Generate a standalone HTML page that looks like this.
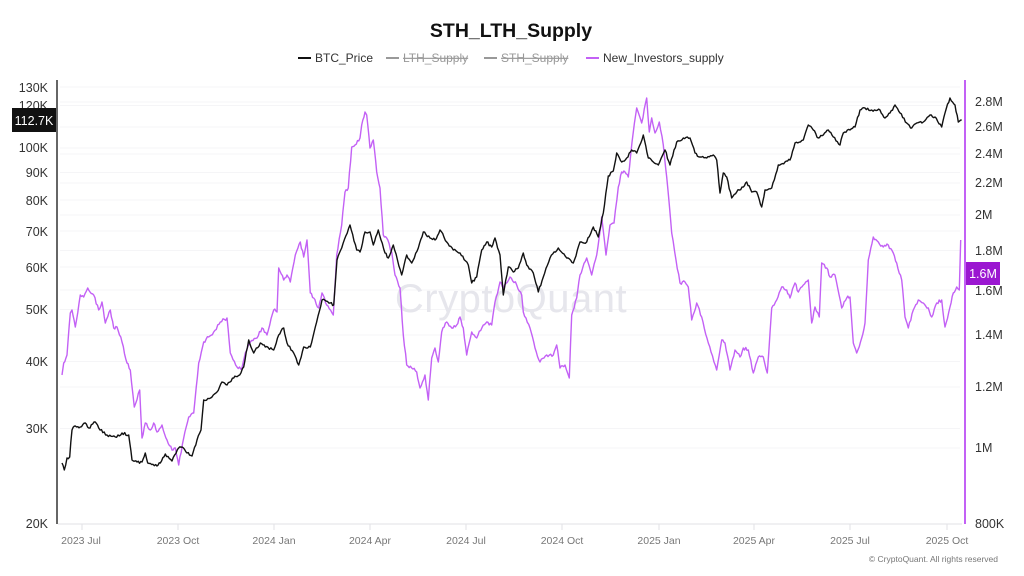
<!DOCTYPE html>
<html><head><meta charset="utf-8"><style>
html,body{margin:0;padding:0;background:#fff;}
svg{display:block;font-family:"Liberation Sans",sans-serif;}
</style></head><body>
<svg width="1024" height="576" viewBox="0 0 1024 576" xmlns="http://www.w3.org/2000/svg">
<rect width="1024" height="576" fill="#fff"/>
<!-- title -->
<text x="511" y="37" text-anchor="middle" font-size="19.5" font-weight="bold" fill="#111">STH_LTH_Supply</text>
<!-- legend -->
<g font-size="12">
<line x1="298" y1="58" x2="311" y2="58" stroke="#111" stroke-width="2"/>
<text x="315" y="62" fill="#333">BTC_Price</text>
<line x1="386" y1="58" x2="399" y2="58" stroke="#999" stroke-width="2"/>
<text x="403" y="62" fill="#999" text-decoration="line-through">LTH_Supply</text>
<line x1="484" y1="58" x2="497" y2="58" stroke="#999" stroke-width="2"/>
<text x="501" y="62" fill="#999" text-decoration="line-through">STH_Supply</text>
<line x1="586" y1="58" x2="599" y2="58" stroke="#c361f5" stroke-width="2"/>
<text x="603" y="62" fill="#333">New_Investors_supply</text>
</g>
<!-- gridlines -->
<g stroke="#f5f5f7" stroke-width="1">
<line x1="60" x2="960" y1="87" y2="87"/><line x1="60" x2="960" y1="105.5" y2="105.5"/>
<line x1="60" x2="960" y1="148" y2="148"/><line x1="60" x2="960" y1="172.5" y2="172.5"/>
<line x1="60" x2="960" y1="200" y2="200"/><line x1="60" x2="960" y1="231" y2="231"/>
<line x1="60" x2="960" y1="267" y2="267"/><line x1="60" x2="960" y1="309.5" y2="309.5"/>
<line x1="60" x2="960" y1="361.5" y2="361.5"/><line x1="60" x2="960" y1="428.5" y2="428.5"/>
<line x1="60" x2="960" y1="102" y2="102"/><line x1="60" x2="960" y1="127" y2="127"/>
<line x1="60" x2="960" y1="154" y2="154"/><line x1="60" x2="960" y1="183" y2="183"/>
<line x1="60" x2="960" y1="215" y2="215"/><line x1="60" x2="960" y1="250.5" y2="250.5"/>
<line x1="60" x2="960" y1="290" y2="290"/><line x1="60" x2="960" y1="335" y2="335"/>
<line x1="60" x2="960" y1="387" y2="387"/><line x1="60" x2="960" y1="448" y2="448"/>
</g>
<!-- watermark -->
<text x="511" y="312" text-anchor="middle" font-size="40" fill="#e6e6ec" letter-spacing="0.5">CryptoQuant</text>
<!-- x axis -->
<line x1="58" y1="524" x2="962" y2="524" stroke="#e2e2e6" stroke-width="1"/>
<g stroke="#e2e2e6" stroke-width="1">
<line x1="82" x2="82" y1="524" y2="530"/><line x1="178" x2="178" y1="524" y2="530"/>
<line x1="274" x2="274" y1="524" y2="530"/><line x1="370" x2="370" y1="524" y2="530"/>
<line x1="466" x2="466" y1="524" y2="530"/><line x1="562" x2="562" y1="524" y2="530"/>
<line x1="659" x2="659" y1="524" y2="530"/><line x1="754" x2="754" y1="524" y2="530"/>
<line x1="850" x2="850" y1="524" y2="530"/><line x1="947" x2="947" y1="524" y2="530"/>
</g>
<g font-size="10.5" fill="#777" text-anchor="middle">
<text x="81" y="544">2023 Jul</text><text x="178" y="544">2023 Oct</text>
<text x="274" y="544">2024 Jan</text><text x="370" y="544">2024 Apr</text>
<text x="466" y="544">2024 Jul</text><text x="562" y="544">2024 Oct</text>
<text x="659" y="544">2025 Jan</text><text x="754" y="544">2025 Apr</text>
<text x="850" y="544">2025 Jul</text><text x="947" y="544">2025 Oct</text>
</g>
<text x="998" y="562" text-anchor="end" font-size="8.5" fill="#777">© CryptoQuant. All rights reserved</text>
<!-- left axis -->
<line x1="57" y1="80" x2="57" y2="524" stroke="#666" stroke-width="2"/>
<g font-size="12.5" fill="#333" text-anchor="end">
<text x="48" y="92">130K</text><text x="48" y="110">120K</text>
<text x="48" y="152">100K</text><text x="48" y="177">90K</text>
<text x="48" y="205">80K</text><text x="48" y="236">70K</text>
<text x="48" y="272">60K</text><text x="48" y="314">50K</text>
<text x="48" y="366">40K</text><text x="48" y="433">30K</text>
<text x="48" y="528">20K</text>
</g>
<rect x="12" y="108" width="44" height="24" fill="#111"/>
<text x="34" y="125" text-anchor="middle" font-size="12.5" fill="#fff">112.7K</text>
<!-- right axis -->
<line x1="965" y1="80" x2="965" y2="524" stroke="#c361f5" stroke-width="2"/>
<g font-size="12.5" fill="#333">
<text x="975" y="106">2.8M</text><text x="975" y="131">2.6M</text>
<text x="975" y="158">2.4M</text><text x="975" y="187">2.2M</text>
<text x="975" y="219">2M</text><text x="975" y="255">1.8M</text>
<text x="975" y="295">1.6M</text><text x="975" y="339">1.4M</text>
<text x="975" y="391">1.2M</text><text x="975" y="452">1M</text>
<text x="975" y="528">800K</text>
</g>
<rect x="966" y="262" width="34" height="23" fill="#9b17d1"/>
<text x="983" y="278" text-anchor="middle" font-size="12.5" fill="#fff">1.6M</text>
<!-- series -->
<polyline id="nis" fill="none" stroke="#c361f5" stroke-width="1.4" stroke-linejoin="round" points="62,375 63.7,363 67,355 70.3,313 72,310 75.3,327 80.3,295 83.7,297 87.7,288 93.7,295 98.7,310 102,302 105.3,323 110.3,310 113.7,328 117,327 122,342 127,363 130.3,370 134.3,407 139.7,390 142,438 145.3,423 150.3,430 153.7,423 157,432 162,425 167,440 172,450 175.3,448 178.7,465 183.7,438 188.7,417 193.7,413 198.7,363 203.7,342 208.7,337 213.7,332 220.3,322 227,318 230.3,353 237,367 242,368 245.3,353 250.3,342 257,338 262,328 267,335 273.7,310 277,312 278.7,268 283.7,280 287,275 290.3,282 295.3,255 300.3,242 303.7,257 307,240 310.3,293 313.7,298 318.7,308 322,293 326.7,305 333.3,315 336.7,255 341.7,225 345,192 348.3,188 351.7,147 355,145 360,138 361.7,125 365,112 366.7,115 370,148 373.3,140 376.7,172 380,188 383.3,235 386.7,238 391.7,252 395,275 400,288 403.3,335 406.7,365 411.7,368 416.7,372 420,388 425,375 428.3,400 431.7,358 435,348 438.3,362 441.7,332 446.7,322 451.7,328 456.7,325 460,317 463.3,328 466.7,355 471.7,332 476.7,338 483.3,325 486.7,322 491.7,325 495,302 500,282 503.3,288 510,277 516.7,285 521.7,295 523.3,312 530,328 535,348 540,362 546.7,355 553.3,355 556.7,345 560,368 565,365 569.3,378 571.7,315 576.7,298 580,275 586.7,258 591.7,275 596.7,255 601.7,217 606,255 610,225 614,223 618.3,187 621.7,172 625,172 628.3,177 633.3,132 636.7,108 641.7,123 646.7,98 649.3,132 651.7,118 655,133 659.3,122 663.3,145 666.7,177 671.7,233 676,260 680,283 685,282 688.3,287 691.7,320 696.7,303 701.7,317 708.3,343 716.7,370 721.7,340 725,343 730,370 735,350 740,357 743.3,348 748.3,350 753.3,373 758.3,357 763.3,357 767.3,373 771.7,308 776.7,300 781.7,287 786.7,290 790,298 795,283 798.3,292 803.3,285 808.3,280 811.7,323 815,307 819.3,317 821.7,263 826.7,268 830,277 835,275 841.7,308 846.7,298 850,297 853.3,343 856.7,353 861.7,338 865,323 868.3,260 873.3,237 878.3,242 883.3,247 888.3,245 893.3,253 896.7,263 901.7,280 905,317 908.3,328 913.3,310 918.3,300 923.3,303 928.3,308 931.7,317 936.7,303 941.7,300 945,327 950,307 953.3,293 956.7,287 959.3,290 960.7,240"/>
<polyline id="btc" fill="none" stroke="#111" stroke-width="1.4" stroke-linejoin="round" points="62,463 64.3,470 67,458 69.7,457 72,430 75.3,426 80.3,427 85.3,423 88.7,428 95.3,422 98.7,428 107,435 115.3,437 122,433 128.7,435 132,460 137,462 142,462 145.3,453 147.7,463 157,466 160.3,463 165.3,454 172,461 178.7,448 182,447 187,453 192,456 197,440 201,430 203.7,400 212,397 217,392 222,382 227,385 233.7,378 239.7,375 243.7,367 248.7,340 253.7,353 260.3,343 265.3,347 273.7,350 278.7,335 283.7,328 287,343 293.7,353 298.7,365 303.7,347 310.3,347 315.3,327 322,300 330.3,303 333.7,305 337,260 341.7,248 350,225 356.7,250 360,252 365,232 370,232 373.3,245 378.3,230 385,253 388.3,258 393.3,245 401.7,275 406.7,255 411.7,263 418.3,248 423.3,232 430,238 435,240 440,230 446.7,242 453.3,250 460,253 468.3,265 471.7,283 476.7,277 481.7,250 486.7,242 491.7,247 495,238 500,255 503.3,295 508.3,267 513.3,272 518.3,268 523.3,253 526.7,265 533.3,273 538.3,292 543.3,277 550,258 558.3,248 566.7,258 573.3,263 580,242 586.7,242 593.3,227 598.3,237 603.3,213 608.3,176 613.3,171 616.7,153 621.7,162 626.7,158 631.7,150 636.7,153 643.3,135 648.3,158 653.3,162 658.3,165 665,150 670,165 676.7,142 683.3,138 690,138 695,153 700,157 706.7,158 713.3,155 716.7,160 720,193 723.3,173 726.7,177 731.7,198 736.7,192 743.3,187 746.7,182 751.7,192 756.7,192 761.7,207 765,190 771.7,188 778.3,165 785,162 790,160 795,143 803.3,140 808.3,125 813.3,130 818.3,138 823.3,135 828.3,130 833.3,137 840,145 843.3,133 850,130 855,127 860,110 865,108 871.7,110 880,110 885,118 890,113 895,105 900,113 906.7,123 911.7,128 916.7,123 923.3,122 930,115 935,117 941.7,127 945,113 950,98 955,105 958.3,122 961.7,120"/>
</svg>
<script>
(function(){
  var seed=12345;
  function rnd(){seed=(seed*16807)%2147483647;return seed/2147483647;}
  function jit(id,amp,step){
    var pl=document.getElementById(id);
    var pts=pl.getAttribute('points').trim().split(/\s+/).map(function(p){return p.split(',').map(Number);});
    var out=[];
    for(var i=0;i<pts.length-1;i++){
      var x0=pts[i][0],y0=pts[i][1],x1=pts[i+1][0],y1=pts[i+1][1];
      var n=Math.max(1,Math.round((x1-x0)/step));
      for(var k=0;k<n;k++){
        var t=k/n,y=y0+(y1-y0)*t;
        if(k>0) y+=(rnd()-0.5)*2*amp;
        out.push((x0+(x1-x0)*t).toFixed(1)+','+y.toFixed(1));
      }
    }
    out.push(pts[pts.length-1].join(','));
    pl.setAttribute('points',out.join(' '));
  }
  jit('btc',1.3,1.3);
  jit('nis',1.6,1.3);
})();
</script>
</body></html>
